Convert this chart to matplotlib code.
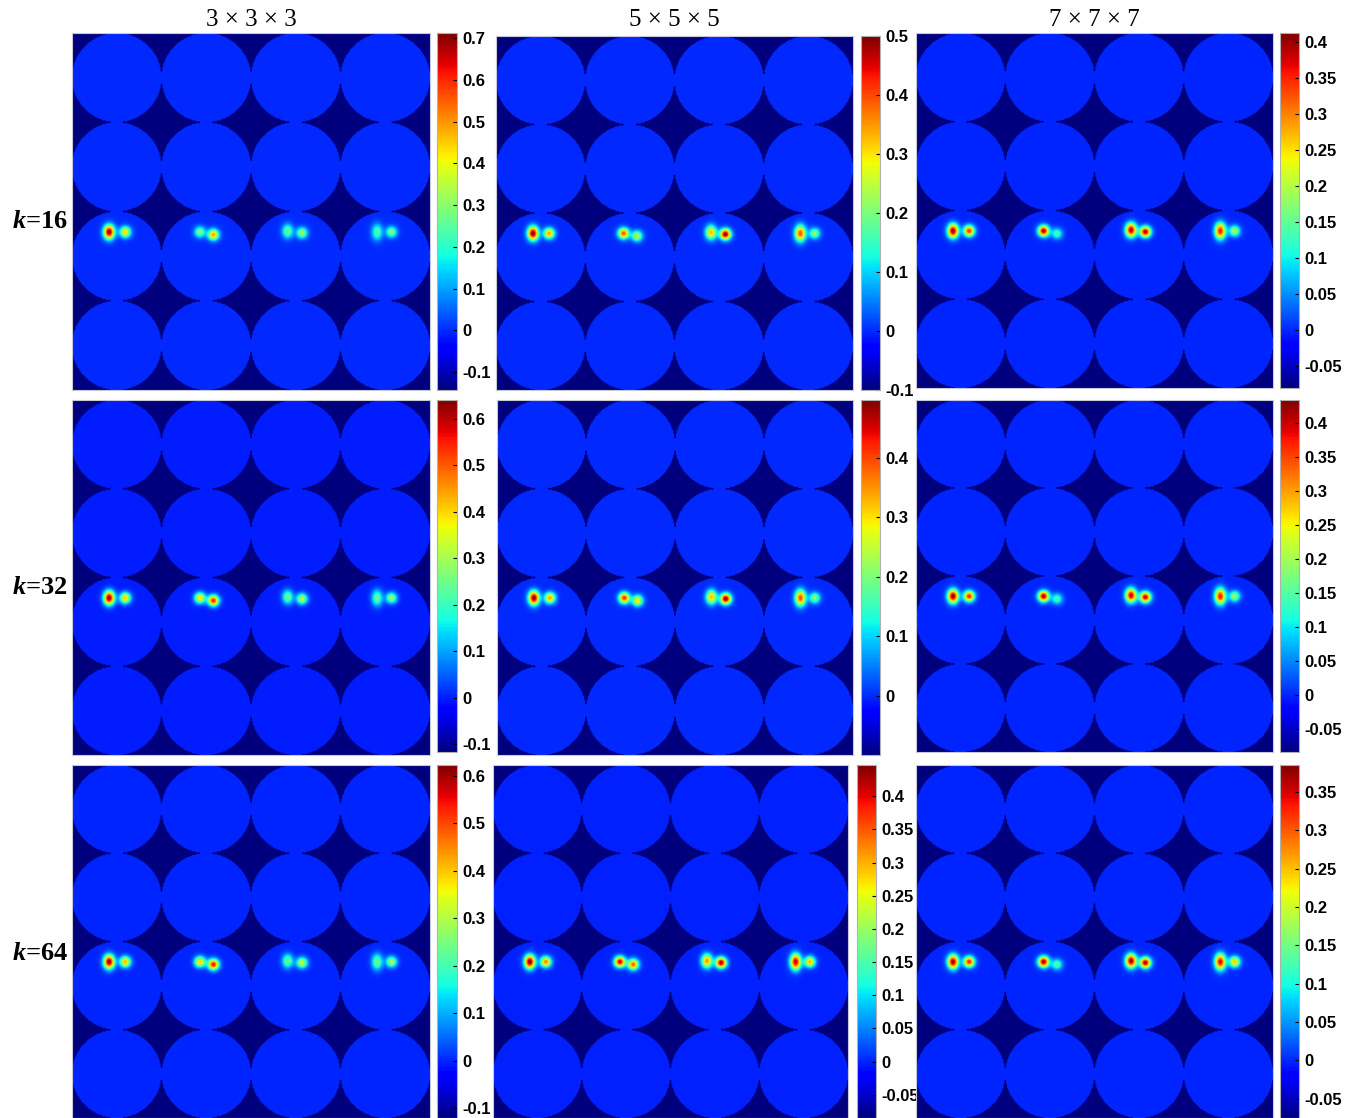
import numpy as np
import matplotlib
matplotlib.use('Agg')
import matplotlib.pyplot as plt

plt.rcParams['mathtext.fontset'] = 'custom'
plt.rcParams['mathtext.it'] = 'Liberation Serif:italic:bold'
plt.rcParams['mathtext.rm'] = 'Liberation Serif:bold'

# column / row headings
kernel_labels = ['3 × 3 × 3', '5 × 5 × 5', '7 × 7 × 7']
k_values = [16, 32, 64]

# colour limits of every panel, [row][col]
vmins = [[-0.143, -0.10, -0.080],
         [-0.117, -0.099, -0.084],
         [-0.120, -0.085, -0.075]]
vmaxs = [[0.712, 0.50, 0.4125],
         [0.641, 0.497, 0.434],
         [0.623, 0.447, 0.385]]
cbar_ticks = [[[-0.1, 0, 0.1, 0.2, 0.3, 0.4, 0.5, 0.6, 0.7],
               [-0.1, 0, 0.1, 0.2, 0.3, 0.4, 0.5],
               [-0.05, 0, 0.05, 0.1, 0.15, 0.2, 0.25, 0.3, 0.35, 0.4]],
              [[-0.1, 0, 0.1, 0.2, 0.3, 0.4, 0.5, 0.6],
               [0, 0.1, 0.2, 0.3, 0.4],
               [-0.05, 0, 0.05, 0.1, 0.15, 0.2, 0.25, 0.3, 0.35, 0.4]],
              [[-0.1, 0, 0.1, 0.2, 0.3, 0.4, 0.5, 0.6],
               [-0.05, 0, 0.05, 0.1, 0.15, 0.2, 0.25, 0.3, 0.35, 0.4],
               [-0.05, 0, 0.05, 0.1, 0.15, 0.2, 0.25, 0.3, 0.35]]]

# blob pairs in the third row of circles: offsets from circle centre (cell units)
left_dx = [-0.085, -0.07, -0.09, -0.09]
left_dy = [-0.27, -0.27, -0.28, -0.27]
right_dx = [0.095, 0.08, 0.07, 0.07]
right_dy = [-0.27, -0.24, -0.26, -0.27]
# vertical stretch of the left blob
left_stretch = [1.3, 1.0, 1.3, 1.5]

# peak values of the (left, right) blob in each of the four circles
peaks_333 = [[(0.71, 0.45), (0.30, 0.50), (0.28, 0.33), (0.25, 0.30)],
             [(0.64, 0.42), (0.40, 0.55), (0.26, 0.33), (0.25, 0.30)],
             [(0.62, 0.42), (0.40, 0.55), (0.25, 0.33), (0.25, 0.30)]]
peaks_555 = [[(0.50, 0.35), (0.40, 0.25), (0.33, 0.50), (0.40, 0.22)],
             [(0.50, 0.35), (0.42, 0.30), (0.33, 0.50), (0.40, 0.22)],
             [(0.45, 0.33), (0.42, 0.35), (0.32, 0.44), (0.42, 0.30)]]
peaks_777 = [[(0.41, 0.35), (0.40, 0.14), (0.40, 0.40), (0.36, 0.20)],
             [(0.43, 0.37), (0.42, 0.15), (0.41, 0.41), (0.38, 0.20)],
             [(0.38, 0.33), (0.38, 0.14), (0.38, 0.37), (0.35, 0.25)]]
peaks = [peaks_333, peaks_555, peaks_777]

# panel boxes in figure pixels: (left, top, right, bottom)
panel_px = [[(72, 33, 430, 390), (496, 36, 853, 390), (916, 33, 1273, 388)],
            [(72, 400, 430, 755), (497, 400, 853, 755), (916, 400, 1273, 752)],
            [(72, 765, 430, 1118), (493, 765, 848, 1118), (916, 765, 1273, 1118)]]
cbar_px = [[(437, 33, 457, 390), (861, 36, 880, 390), (1280, 33, 1299, 388)],
           [(437, 400, 457, 752), (861, 400, 880, 755), (1280, 400, 1299, 752)],
           [(437, 765, 457, 1118), (857, 765, 876, 1118), (1280, 765, 1299, 1118)]]

W, H = 1353, 1118
fig = plt.figure(figsize=(W / 100, H / 100), dpi=100)


def to_rect(box):
    l, t, r, b = box
    return [l / W, 1 - b / H, (r - l) / W, (b - t) / H]


res = 100
n = 4
yy, xx = np.mgrid[0:n * res, 0:n * res]
xx = (xx + 0.5) / res
yy = (yy + 0.5) / res
inside = np.zeros_like(xx, dtype=bool)
for i in range(n):
    for j in range(n):
        inside |= (xx - (j + 0.5)) ** 2 + (yy - (i + 0.5)) ** 2 < 0.25


def make_field(vmin, pk):
    f = np.where(inside, 0.0, vmin)
    s = 0.042
    for c in range(n):
        cx, cy = c + 0.5, 2.5
        blobs = [(left_dx[c], left_dy[c], pk[c][0], left_stretch[c]),
                 (right_dx[c], right_dy[c], pk[c][1], 1.0)]
        for (dx, dy, a, st) in blobs:
            d2 = (xx - cx - dx) ** 2 + ((yy - cy - dy) / st) ** 2
            f += a * np.exp(-d2 / (2 * s * s))
    return f


for r in range(3):
    for c in range(3):
        ax = fig.add_axes(to_rect(panel_px[r][c]))
        field = make_field(vmins[r][c], peaks[c][r])
        im = ax.imshow(field, cmap='jet', vmin=vmins[r][c], vmax=vmaxs[r][c],
                       interpolation='bilinear', aspect='auto')
        ax.set_xticks([])
        ax.set_yticks([])
        for sp in ax.spines.values():
            sp.set_color('#c8c8d8')
            sp.set_linewidth(0.8)

        cax = fig.add_axes(to_rect(cbar_px[r][c]))
        cb = fig.colorbar(im, cax=cax)
        cb.set_ticks(cbar_ticks[r][c])
        cb.set_ticklabels(['%g' % t for t in cbar_ticks[r][c]])
        cax.tick_params(direction='in', length=3, width=0.8, pad=4, labelsize=12)
        for lab in cax.get_yticklabels():
            lab.set_fontfamily('Liberation Sans')
            lab.set_fontweight('bold')
        cb.outline.set_edgecolor('#b0b0b0')
        cb.outline.set_linewidth(0.8)

# column titles
for c, lab in enumerate(kernel_labels):
    l, t, rr, b = panel_px[0][c]
    fig.text(((l + rr) / 2) / W, 1 - 20 / H, lab, ha='center', va='center',
             fontsize=18, fontfamily='Liberation Serif')

# row labels
for r, k in enumerate(k_values):
    l, t, rr, b = panel_px[r][0]
    fig.text(40 / W, 1 - (t + 188) / H, '$k$=%d' % k, ha='center', va='center',
             fontsize=19, fontfamily='Liberation Serif', fontweight='bold')

fig.savefig('out.png', dpi=100)
